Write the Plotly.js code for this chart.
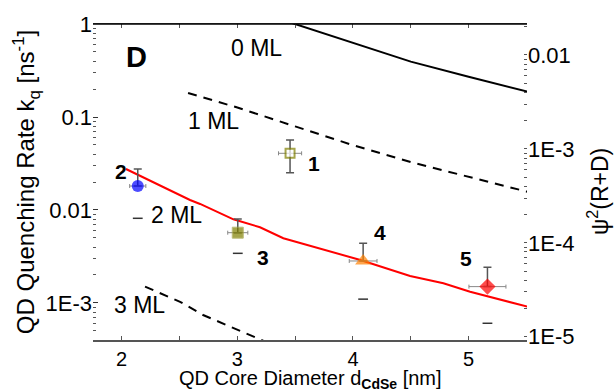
<!DOCTYPE html>
<html><head><meta charset="utf-8">
<script src="https://cdn.plot.ly/plotly-3.0.1.min.js"></script>
<style>html,body{margin:0;padding:0;background:#fff}</style>
</head><body><div id="chart" style="width:616px;height:392px"></div>
<script>
// ---- QD samples ----
const qdLabels = ['1', '2', '3', '4', '5'];
const qdDiameter = [3.456, 2.139, 3.004, 4.088, 5.163];
const qdDiameterErr = [0.10, 0.07, 0.087, 0.12, 0.16];
const qdRate = [0.0407, 0.0181, 0.0057, 0.00283, 0.0015];
const qdRateUpper = [0.0566, 0.0276, 0.0080, 0.00439, 0.00242];
const qdRateLower = [0.0252, 0.00814, 0.00342, 0.0011, 0.000605];

// ---- theoretical curves ----
const ml0X = [3.25, 3.5, 4.0, 4.5, 5.0, 5.51];
const ml0Y = [1.26, 1.0, 0.622, 0.394, 0.271, 0.187];
const ml1X = [2.574, 3.0, 3.5, 4.0, 4.5, 5.0, 5.51];
const ml1Y = [0.181, 0.1265, 0.0792, 0.0498, 0.0327, 0.0229, 0.0157];
const ml3X = [2.202, 2.505, 2.704, 3.110, 3.25];
const ml3Y = [0.0015, 0.00103, 0.000743, 0.000453, 0.00038];
const fitX = [2.037, 2.591, 2.678, 2.966, 3.196, 3.398, 4.064, 4.494, 4.782, 5.013, 5.51];
const fitY = [0.0276, 0.01282, 0.01161, 0.00794, 0.00652, 0.00497, 0.0029, 0.00195, 0.00163, 0.00132, 0.000912];

// ---- ticks ----
const xTicks = [2, 3, 4, 5];
const leftTicks = [0.001, 0.01, 0.1, 1];
const leftTickText = ['1E-3', '0.01', '0.1', '1'];
const rightTicks = [1e-5, 1e-4, 1e-3, 1e-2];
const rightTickText = ['1E-5', '1E-4', '1E-3', '0.01'];

// ---- text labels ----
const curveLabels = ['0 ML', '1 ML', '2 ML', '3 ML'];
const xTitle = 'QD Core Diameter d<sub><b>CdSe</b></sub> [nm]';
const yTitle = 'QD Quenching Rate k<sub>q</sub> [ns<sup>-1</sup>]';
const y2Title = 'ψ<sup>2</sup>(R+D)';

// styles (kept apart from data)
const FONT = 'Liberation Sans, Arial, sans-serif';
const markerSymbols = ['square', 'circle', 'square', 'triangle-up', 'diamond'];
const markerFill = ['#ffffff', '#0000ff', '#808000', '#ff8000', '#ff0000'];
const markerEdge = ['#808000', '#0000ff', '#a0a040', '#ff8000', '#ff0000'];
const markerEdgeW = [2, 0, 1, 0, 0];
const markerSizes = [9, 12, 11, 14, 12.5];
const showLowerBar = [true, false, false, false, false];

const minorVals = [];
for (let e = -7; e <= 1; e++) for (let d = 2; d <= 9; d++) minorVals.push(d * Math.pow(10, e));

const errUp = qdRate.map((v, i) => qdRateUpper[i] - v);
const errDown = qdRate.map((v, i) => showLowerBar[i] ? v - qdRateLower[i] : 0);
const capIdx = qdRate.map((v, i) => i).filter(i => !showLowerBar[i]);

const traces = [
  {x: ml0X, y: ml0Y, mode: 'lines', line: {color: '#000', width: 2}, hoverinfo: 'skip'},
  {x: ml1X, y: ml1Y, mode: 'lines', line: {color: '#000', width: 2, dash: '9px,7px'}, hoverinfo: 'skip'},
  {x: ml3X, y: ml3Y, mode: 'lines', line: {color: '#000', width: 2, dash: '9px,7px'}, hoverinfo: 'skip'},
  {x: fitX, y: fitY, mode: 'lines', line: {color: '#ff0000', width: 2}, hoverinfo: 'skip'},
  {x: capIdx.map(i => qdDiameter[i]), y: capIdx.map(i => qdRateLower[i]), mode: 'markers',
   marker: {symbol: 'line-ew', size: 7, line: {color: '#333', width: 1.5}}, hoverinfo: 'skip'},
  {x: qdDiameter, y: qdRate, mode: 'markers', text: qdLabels,
   error_y: {type: 'data', symmetric: false, array: errUp, arrayminus: errDown, color: '#555', thickness: 1.5, width: 4},
   error_x: {type: 'data', array: qdDiameterErr, color: '#888', thickness: 1, width: 2},
   marker: {symbol: markerSymbols, color: markerFill, size: markerSizes, line: {color: markerEdge, width: markerEdgeW}}},
  // empty trace so that the right-hand axis is drawn
  {x: [], y: [], yaxis: 'y2', mode: 'markers', hoverinfo: 'skip'}
];

const ann = [];
function addText(txt, x, ylog, size, bold) {
  ann.push({x: x, y: ylog, xref: 'x', yref: 'y', text: bold ? '<b>' + txt + '</b>' : txt, showarrow: false,
    font: {family: FONT, size: size, color: '#000'}, xanchor: 'center', yanchor: 'middle'});
}
addText('D', 2.127, -0.36, 29, true);
const curveLabelPos = [[3.165, -0.253], [2.794, -1.043], [2.470, -2.054], [2.150, -3.022]];
curveLabels.forEach((t, i) => addText(t, curveLabelPos[i][0], curveLabelPos[i][1], 23, false));
const numPos = [[3.664, -1.50], [1.994, -1.586], [3.223, -2.511], [4.235, -2.237], [4.979, -2.523]];
qdLabels.forEach((t, i) => addText(t, numPos[i][0], numPos[i][1], 21, true));
ann.push({xref: 'paper', yref: 'paper', x: 0.5, y: -0.126, text: xTitle, showarrow: false,
  font: {family: FONT, size: 20, color: '#000'}, xanchor: 'center', yanchor: 'middle'});
ann.push({xref: 'paper', yref: 'paper', x: 1.1636, y: 0.468, text: y2Title, showarrow: false, textangle: -90,
  font: {family: FONT, size: 23, color: '#000'}, xanchor: 'center', yanchor: 'middle'});

const layout = {
  width: 616, height: 392,
  margin: {l: 93, r: 89, t: 24, b: 52},
  paper_bgcolor: '#fff', plot_bgcolor: '#fff',
  showlegend: false,
  font: {family: FONT, size: 22, color: '#000'},
  xaxis: {
    range: [1.752, 5.505], tickmode: 'array', tickvals: xTicks, ticks: 'inside', ticklen: 4, tickwidth: 1, tickcolor: '#555',
    showline: true, linecolor: '#555', linewidth: 1.5, mirror: 'ticks', showgrid: false, zeroline: false,
    minor: {dtick: 0.5, tick0: 0, ticks: 'inside', ticklen: 4, tickcolor: '#555'},
    tickfont: {family: FONT, size: 20}
  },
  yaxis: {
    type: 'log', range: [-3.398, 0], tickmode: 'array', tickvals: leftTicks, ticktext: leftTickText,
    ticks: 'inside', ticklen: 5, tickcolor: '#333', showline: false, showgrid: false, zeroline: false,
    minor: {tickmode: 'array', tickvals: minorVals, ticks: 'inside', ticklen: 3, tickcolor: '#555'},
    tickfont: {family: FONT, size: 22},
    title: {text: yTitle, font: {family: FONT, size: 24}}
  },
  yaxis2: {
    type: 'log', overlaying: 'y', side: 'right', anchor: 'x', range: [-5.035, -1.67], tickmode: 'array',
    tickvals: rightTicks, ticktext: rightTickText, ticks: 'inside', ticklen: 3, tickcolor: '#555',
    showline: false, showgrid: false, zeroline: false,
    minor: {tickmode: 'array', tickvals: minorVals, ticks: 'inside', ticklen: 3, tickcolor: '#555'},
    tickfont: {family: FONT, size: 22}
  },
  shapes: [
    {type: 'line', xref: 'paper', yref: 'paper', x0: 0, x1: 1, y0: 1, y1: 1, line: {color: '#000', width: 1.5}}
  ],
  annotations: ann
};

Plotly.newPlot('chart', traces, layout, {staticPlot: true});
</script>
</body></html>
